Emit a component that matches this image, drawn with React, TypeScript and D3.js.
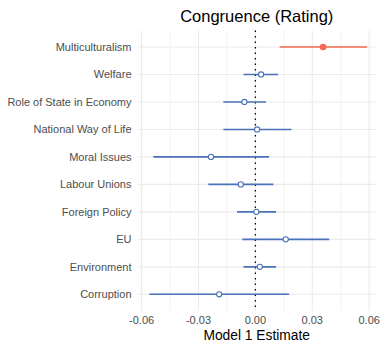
import React from "react";
import * as d3 from "d3";

// Issue dimensions, top to bottom
const issues = [
  "Multiculturalism",
  "Welfare",
  "Role of State in Economy",
  "National Way of Life",
  "Moral Issues",
  "Labour Unions",
  "Foreign Policy",
  "EU",
  "Environment",
  "Corruption",
];
const estimates = [0.0357, 0.003, -0.0058, 0.0009, -0.0234, -0.0077, 0.0005, 0.016, 0.0023, -0.0191];
const lower = [0.0128, -0.0063, -0.0169, -0.0169, -0.0538, -0.0248, -0.0097, -0.0069, -0.0063, -0.0559];
const upper = [0.0589, 0.012, 0.0056, 0.019, 0.0072, 0.0095, 0.0109, 0.0389, 0.0109, 0.0178];
const significant = [true, false, false, false, false, false, false, false, false, false];
const xTicks = [-0.06, -0.03, 0, 0.03, 0.06];
const xMinor = [-0.045, -0.015, 0.015, 0.045];

const W = 381;
const H = 343;
const panel = { left: 138, right: 375.5, top: 30.5, bottom: 310.8 };
const font = "'Liberation Sans', Arial, Helvetica, sans-serif";
const RED = "#F4694F";
const BLUE = "#4A72B8";
const GRID = "#EBEBEB";

export default function App() {
  const x = d3.scaleLinear().domain([-0.06, 0.06]).range([141.6, 369.2]);
  const y = d3
    .scalePoint<string>()
    .domain(issues)
    .range([panel.top, panel.bottom])
    .padding(0.6);
  const fmt = (t: number) => d3.format(".2f")(t).replace("\u2212", "-");

  return (
    <svg width={W} height={H} style={{ position: "absolute", left: 0, top: 0 }} fontFamily={font}>
      <rect width={W} height={H} fill="white" />
      {xMinor.map((t) => (
        <line key={"m" + t} x1={x(t)} x2={x(t)} y1={panel.top} y2={panel.bottom} stroke={GRID} strokeWidth={0.6} />
      ))}
      {xTicks.map((t) => (
        <line key={"g" + t} x1={x(t)} x2={x(t)} y1={panel.top} y2={panel.bottom} stroke={GRID} strokeWidth={1.1} />
      ))}
      {issues.map((d) => (
        <line key={"h" + d} x1={panel.left} x2={panel.right} y1={y(d)} y2={y(d)} stroke={GRID} strokeWidth={1.1} />
      ))}
      <line x1={x(0)} x2={x(0)} y1={panel.top} y2={panel.bottom} stroke="#000" strokeWidth={1.3} strokeDasharray="1.4,4.1" />
      {issues.map((d, i) => {
        const c = significant[i] ? RED : BLUE;
        const cy = y(d)!;
        return (
          <g key={d}>
            <line x1={x(lower[i])} x2={x(upper[i])} y1={cy} y2={cy} stroke={c} strokeWidth={1.6} />
            {significant[i] ? (
              <circle cx={x(estimates[i])} cy={cy} r={3.3} fill={c} />
            ) : (
              <circle cx={x(estimates[i])} cy={cy} r={2.6} fill="white" stroke={c} strokeWidth={1.1} />
            )}
          </g>
        );
      })}
      {issues.map((d) => (
        <text key={"l" + d} x={131.5} y={y(d)} dy="0.35em" textAnchor="end" fontSize={11} fill="#4D4D4D">
          {d}
        </text>
      ))}
      {xTicks.map((t) => (
        <text key={"t" + t} x={x(t)} y={324} textAnchor="middle" fontSize={11} fill="#4D4D4D">
          {fmt(t)}
        </text>
      ))}
      <text x={(panel.left + panel.right) / 2} y={340} textAnchor="middle" fontSize={13.8} fill="#000">
        Model 1 Estimate
      </text>
      <text x={(panel.left + panel.right) / 2} y={21.5} textAnchor="middle" fontSize={16.5} fill="#000">
        Congruence (Rating)
      </text>
    </svg>
  );
}
